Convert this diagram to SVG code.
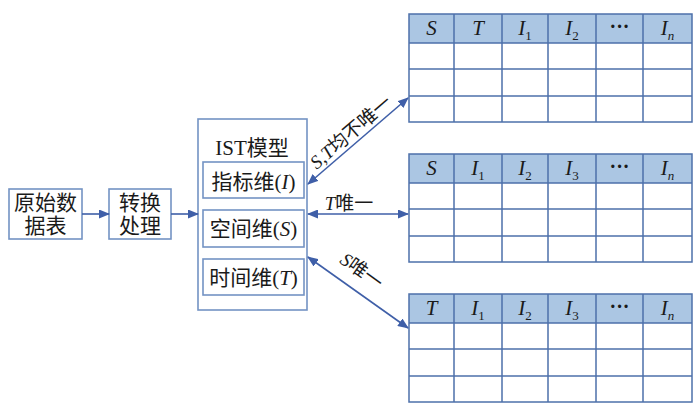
<svg xmlns="http://www.w3.org/2000/svg" width="700" height="418" viewBox="0 0 700 418">
<defs>
<style>
.box{fill:#fff;stroke:#7393c4;stroke-width:1.6}
.t{font-family:"Liberation Serif","Noto Sans CJK SC",serif;fill:#1a1a1a}
.cn{font-size:21px;text-anchor:middle}
.hd{font-size:21px;font-style:italic;text-anchor:middle}
.sub{font-size:13px;font-style:normal}
.subi{font-size:13px;font-style:italic}
.dots{font-size:20px;font-weight:bold;text-anchor:middle;font-style:normal}
.grid{stroke:#4d70aa;stroke-width:1.5;fill:none}
.hdr{fill:#abc6e3;stroke:none}
.conn{stroke:#3f5fa8;stroke-width:1.6;fill:none}
.lbl{font-size:19px}
.i{font-style:italic}
</style>
<marker id="ah" markerWidth="11" markerHeight="9" refX="10" refY="4.5" orient="auto-start-reverse" markerUnits="userSpaceOnUse">
<path d="M0,0 L11,4.5 L0,9 z" fill="#3f5fa8"/>
</marker>
<g id="tbl">
<rect class="hdr" x="409" y="0" width="283" height="29"/>
<rect class="grid" x="409" y="0" width="283" height="108"/>
<path class="grid" d="M409,29H692M409,55H692M409,82H692M454,0V108M502,0V108M548,0V108M596,0V108M643,0V108"/>
</g>
</defs>

<g id="raw">
<rect class="box" x="9" y="189" width="73" height="50"/>
<text class="t cn" x="45.5" y="210">原始数</text>
<text class="t cn" x="45.5" y="233">据表</text>
</g>

<g id="convert">
<rect class="box" x="109" y="189" width="62" height="50"/>
<text class="t cn" x="140" y="210">转换</text>
<text class="t cn" x="140" y="233">处理</text>
</g>

<g id="ist">
<rect class="box" x="198" y="119" width="109" height="191"/>
<text class="t cn" x="252" y="155">IST模型</text>
<g id="dimI">
<rect class="box" x="203" y="162" width="101" height="36"/>
<text class="t cn" x="253.5" y="189">指标维(<tspan class="i">I</tspan>)</text>
</g>
<g id="dimS">
<rect class="box" x="203" y="210" width="101" height="37"/>
<text class="t cn" x="253.5" y="236">空间维(<tspan class="i">S</tspan>)</text>
</g>
<g id="dimT">
<rect class="box" x="203" y="259" width="101" height="36"/>
<text class="t cn" x="253.5" y="285">时间维(<tspan class="i">T</tspan>)</text>
</g>
</g>

<g id="table1">
<use href="#tbl" y="14"/>
<g class="t hd">
<text x="431.5" y="35">S</text>
<text x="478" y="35">T</text>
<text x="525" y="35">I<tspan class="sub" dy="5">1</tspan></text>
<text x="572" y="35">I<tspan class="sub" dy="5">2</tspan></text>
<text class="dots" x="619.5" y="33">···</text>
<text x="667.5" y="35">I<tspan class="subi" dy="5">n</tspan></text>
</g>
</g>

<g id="table2">
<use href="#tbl" y="154"/>
<g class="t hd">
<text x="431.5" y="175">S</text>
<text x="478" y="175">I<tspan class="sub" dy="5">1</tspan></text>
<text x="525" y="175">I<tspan class="sub" dy="5">2</tspan></text>
<text x="572" y="175">I<tspan class="sub" dy="5">3</tspan></text>
<text class="dots" x="619.5" y="173">···</text>
<text x="667.5" y="175">I<tspan class="subi" dy="5">n</tspan></text>
</g>
</g>

<g id="table3">
<use href="#tbl" y="294"/>
<g class="t hd">
<text x="431.5" y="315">T</text>
<text x="478" y="315">I<tspan class="sub" dy="5">1</tspan></text>
<text x="525" y="315">I<tspan class="sub" dy="5">2</tspan></text>
<text x="572" y="315">I<tspan class="sub" dy="5">3</tspan></text>
<text class="dots" x="619.5" y="313">···</text>
<text x="667.5" y="315">I<tspan class="subi" dy="5">n</tspan></text>
</g>
</g>

<g id="connectors">
<line class="conn" x1="82" y1="214" x2="109" y2="214" marker-end="url(#ah)"/>
<line class="conn" x1="171" y1="214" x2="198" y2="214" marker-end="url(#ah)"/>
<line class="conn" x1="308" y1="184" x2="408" y2="98" marker-start="url(#ah)" marker-end="url(#ah)"/>
<line class="conn" x1="308" y1="214" x2="408" y2="214" marker-start="url(#ah)" marker-end="url(#ah)"/>
<line class="conn" x1="308" y1="257" x2="408" y2="328" marker-start="url(#ah)" marker-end="url(#ah)"/>
<text class="t lbl" text-anchor="middle" transform="translate(355,137) rotate(-40.7)"><tspan class="i">S</tspan>,<tspan class="i">T</tspan>均不唯一</text>
<text class="t lbl" text-anchor="middle" x="349" y="210"><tspan class="i">T</tspan>唯一</text>
<text class="t lbl" text-anchor="middle" transform="translate(358,276) rotate(35.4)"><tspan class="i">S</tspan>唯一</text>
</g>
</svg>
